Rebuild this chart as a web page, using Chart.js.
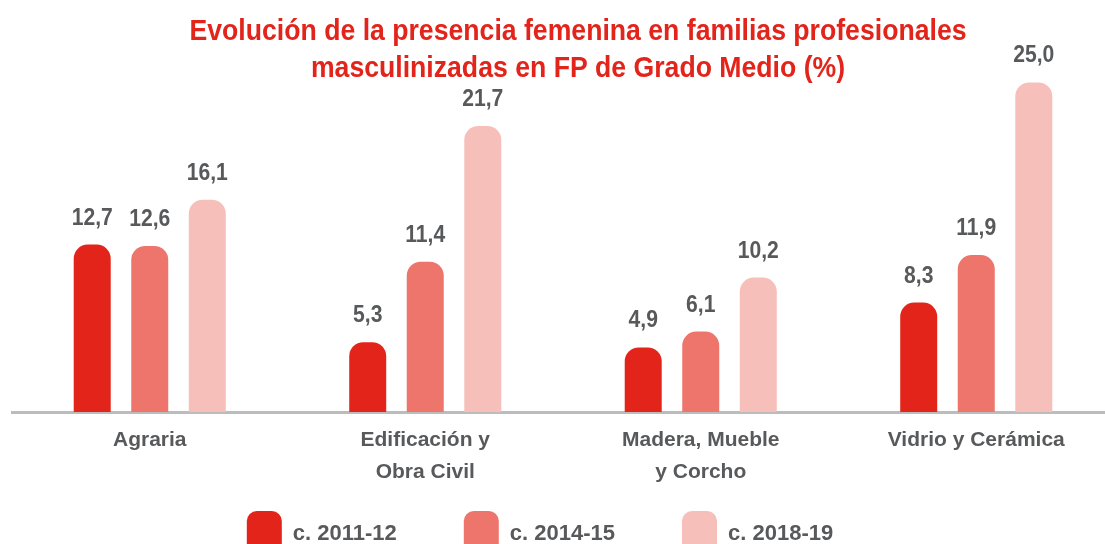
<!DOCTYPE html>
<html>
<head>
<meta charset="utf-8">
<script src="https://cdn.jsdelivr.net/npm/chart.js@4"></script>
<style>
  html, body { margin: 0; padding: 0; background: #fff; }
  #wrap { width: 1105px; height: 544px; overflow: hidden; position: relative; }
  #chart { position: absolute; left: 0; top: 0; }
</style>
</head>
<body>
<div id="wrap"><canvas id="chart" width="1114" height="566"></canvas></div>
<script>
/* Presencia femenina en FP de Grado Medio — barras agrupadas */

const categories = ['Agraria', ['Edificación y', 'Obra Civil'], ['Madera, Mueble', 'y Corcho'], 'Vidrio y Cerámica'];
const seriesNames = ['c. 2011-12', 'c. 2014-15', 'c. 2018-19'];
const curso2011 = [12.7, 5.3, 4.9, 8.3];
const curso2014 = [12.6, 11.4, 6.1, 11.9];
const curso2018 = [16.1, 21.7, 10.2, 25.0];
const titleLines = ['Evolución de la presencia femenina en familias profesionales',
                    'masculinizadas en FP de Grado Medio (%)'];

const FONT = "'Liberation Sans', Arial, sans-serif";
const GREY = '#58595b';
const RED = '#e3241b';
const colors = ['#e3241a', '#ee756b', '#f6bfba'];

// ── title drawn on the canvas (offset to the right, as in the original) ──
const titlePlugin = {
  id: 'titleText',
  afterDraw(chart) {
    const ctx = chart.ctx;
    ctx.save();
    ctx.fillStyle = RED;
    ctx.font = 'bold 30px ' + FONT;
    ctx.textAlign = 'center';
    ctx.textBaseline = 'alphabetic';
    const sx = 777 / ctx.measureText(titleLines[0]).width;  // condensed look
    ctx.translate(578, 0);
    ctx.scale(sx, 1);
    ctx.fillText(titleLines[0], 0, 40);
    ctx.fillText(titleLines[1], 0, 77);
    ctx.restore();
  }
};

// ── value labels above each bar ──
const valueLabels = {
  id: 'valueLabels',
  afterDatasetsDraw(chart) {
    const ctx = chart.ctx;
    ctx.save();
    ctx.fillStyle = GREY;
    ctx.font = 'bold 24px ' + FONT;
    ctx.textAlign = 'center';
    ctx.textBaseline = 'alphabetic';
    chart.data.datasets.forEach((ds, i) => {
      chart.getDatasetMeta(i).data.forEach((bar, j) => {
        ctx.save();
        ctx.translate(bar.x, bar.y - 20);
        ctx.scale(0.88, 1);
        ctx.fillText(ds.data[j].toFixed(1).replace('.', ','), 0, 0);
        ctx.restore();
      });
    });
    ctx.restore();
  }
};

const barStyle = (i) => ({
  backgroundColor: colors[i],
  borderWidth: 0,
  borderRadius: { topLeft: 14, topRight: 14, bottomLeft: 0, bottomRight: 0 },
  borderSkipped: 'bottom',
  categoryPercentage: 0.6265,
  barPercentage: 0.643
});

new Chart(document.getElementById('chart'), {
  type: 'bar',
  data: {
    labels: categories,
    datasets: [
      { label: seriesNames[0], data: curso2011, ...barStyle(0) },
      { label: seriesNames[1], data: curso2014, ...barStyle(1) },
      { label: seriesNames[2], data: curso2018, ...barStyle(2) }
    ]
  },
  options: {
    responsive: false,
    animation: false,
    // negative left padding only shifts the legend; the y afterFit puts the plot back at x=12
    layout: { padding: { top: 60, left: -34, right: 0, bottom: 0 } },
    plugins: {
      title: { display: false },
      tooltip: { enabled: false },
      legend: {
        position: 'bottom',
        labels: {
          color: GREY,
          font: { family: FONT, size: 22, weight: 'bold' },
          boxWidth: 35,
          boxHeight: 45,
          useBorderRadius: true,
          borderRadius: 10,
          padding: 67
        }
      }
    },
    scales: {
      x: {
        grid: { display: false, drawTicks: false },
        border: { display: true, color: '#bcbcbc', width: 3 },
        ticks: {
          color: GREY,
          font: { family: FONT, size: 21, weight: 'bold', lineHeight: 1.52 },
          padding: 12,
          maxRotation: 0,
          autoSkip: false
        },
        afterFit: (scale) => {
          scale.height = 32;
          // the two-line labels run into the legend's empty top padding
          scale._computeLabelArea = () => undefined;
        }
      },
      y: {
        display: true,
        min: 0,
        max: 26.7,
        grid: { display: false, drawTicks: false },
        border: { display: false },
        ticks: { display: false },
        afterFit: (scale) => { scale.width = 46; }
      }
    }
  },
  plugins: [titlePlugin, valueLabels]
});
</script>
</body>
</html>
